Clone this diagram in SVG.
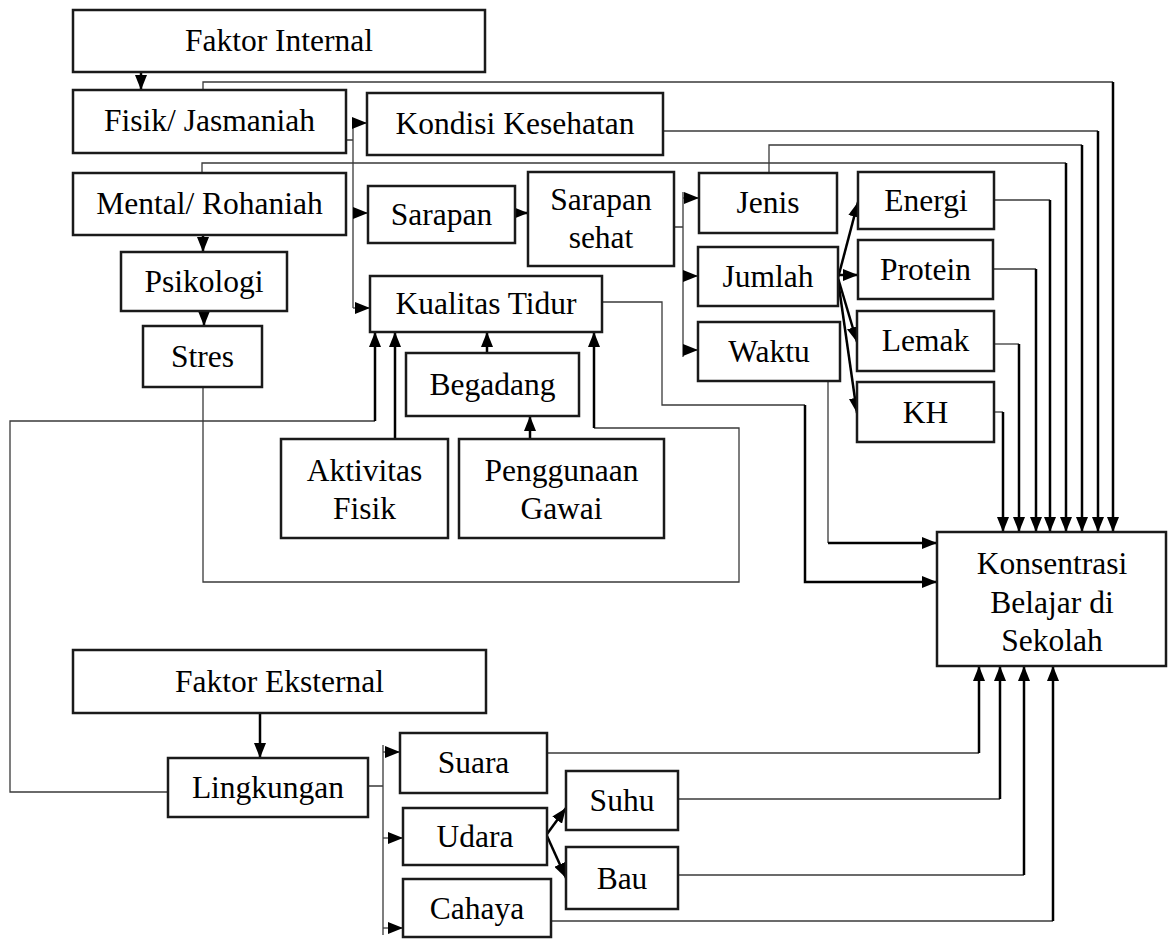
<svg xmlns="http://www.w3.org/2000/svg" width="1171" height="941" viewBox="0 0 1171 941">
<defs>
<style>
.box{fill:#fff;stroke:#1a1a1a;stroke-width:2.5}
.t{font-family:"Liberation Serif","Times New Roman",serif;font-size:31.5px;text-anchor:middle;fill:#000}
.thin{fill:none;stroke:#3a3a3a;stroke-width:1.3}
.thick{fill:none;stroke:#000;stroke-width:2.5}
.arr{marker-end:url(#ah)}
</style>
<marker id="ah" markerUnits="userSpaceOnUse" viewBox="0 0 15 12" markerWidth="15" markerHeight="12" refX="15" refY="6" orient="auto">
<path d="M0,0 L15,6 L0,12 z" fill="#000"/>
</marker>
</defs>
<rect width="1171" height="941" fill="#fff"/>

<g id="connectors">
<path class="thick arr" d="M141,72 V90"/>
<path class="thin" d="M203,90 V82 H1113"/>
<path class="thick arr" d="M1113,82 V532"/>
<path class="thin" d="M663,131 H1098"/>
<path class="thick arr" d="M1098,131 V532"/>
<path class="thin" d="M769,173 V145 H1082"/>
<path class="thick arr" d="M1082,145 V532"/>
<path class="thin" d="M202,173 V163 H1066"/>
<path class="thick arr" d="M1066,163 V532"/>
<path class="thin" d="M994,200 H1050"/>
<path class="thick arr" d="M1050,200 V532"/>
<path class="thin" d="M993,269 H1036"/>
<path class="thick arr" d="M1036,269 V532"/>
<path class="thin" d="M994,344 H1019"/>
<path class="thick arr" d="M1019,344 V532"/>
<path class="thin" d="M994,412 H1003"/>
<path class="thick arr" d="M1003,412 V532"/>
<path class="thin" d="M346,140 H353 M353,120 V308"/>
<path class="thin arr" d="M353,123 H367"/>
<path class="thin arr" d="M353,213 H368"/>
<path class="thin arr" d="M353,308 H370"/>
<path class="thick arr" d="M203,235 V252"/>
<path class="thick arr" d="M204,311 V326"/>
<path class="thick arr" d="M515,213 H528"/>
<path class="thin" d="M674,227 H683 M683,192 V357"/>
<path class="thin arr" d="M683,198 H699"/>
<path class="thin arr" d="M683,276 H698"/>
<path class="thin arr" d="M683,350 H698"/>
<path class="thick arr" d="M838,278 L858,202"/>
<path class="thick arr" d="M838,275 H858"/>
<path class="thick arr" d="M838,278 L857,342"/>
<path class="thick arr" d="M838,280 L857,413"/>
<path class="thin" d="M602,302 H662 V405 H805"/>
<path class="thick arr" d="M805,405 V582 H937"/>
<path class="thin" d="M828,381 V543"/>
<path class="thick arr" d="M828,543 H937"/>
<path class="thin" d="M203,387 V582 H739 V428 H594"/>
<path class="thick arr" d="M594,428 V332"/>
<path class="thin" d="M168,792 H10 V421 H375"/>
<path class="thick arr" d="M375,421 V332"/>
<path class="thick arr" d="M395,439 V332"/>
<path class="thick arr" d="M487,353 V332"/>
<path class="thick arr" d="M530,439 V416"/>
<path class="thick arr" d="M260,713 V758"/>
<path class="thin" d="M368,786 H383 M383,745 V935"/>
<path class="thin arr" d="M383,752 H400"/>
<path class="thin arr" d="M383,838 H403"/>
<path class="thin arr" d="M383,928 H403"/>
<path class="thick arr" d="M547,834 L566,808"/>
<path class="thick arr" d="M547,836 L566,878"/>
<path class="thin" d="M547,753 H979"/>
<path class="thick arr" d="M979,753 V666"/>
<path class="thin" d="M678,799 H1000"/>
<path class="thick arr" d="M1000,799 V666"/>
<path class="thin" d="M678,875 H1024"/>
<path class="thick arr" d="M1024,875 V666"/>
<path class="thin" d="M551,921 H1053"/>
<path class="thick arr" d="M1053,921 V666"/>
</g>

<g id="faktor-internal"><rect class="box" x="73" y="10" width="412" height="62"/><text class="t" x="279" y="51">Faktor Internal</text></g>
<g id="fisik"><rect class="box" x="73" y="90" width="273" height="63"/><text class="t" x="209.5" y="131">Fisik/ Jasmaniah</text></g>
<g id="kondisi"><rect class="box" x="367" y="93" width="296" height="62"/><text class="t" x="515" y="134">Kondisi Kesehatan</text></g>
<g id="mental"><rect class="box" x="73" y="173" width="273" height="62"/><text class="t" x="209.5" y="214">Mental/ Rohaniah</text></g>
<g id="psikologi"><rect class="box" x="121" y="252" width="166" height="59"/><text class="t" x="204" y="292">Psikologi</text></g>
<g id="stres"><rect class="box" x="143" y="326" width="119" height="61"/><text class="t" x="202.5" y="367">Stres</text></g>
<g id="sarapan"><rect class="box" x="368" y="186" width="147" height="57"/><text class="t" x="441.5" y="225">Sarapan</text></g>
<g id="sarapan-sehat"><rect class="box" x="528" y="172" width="146" height="94"/><text class="t" x="601" y="210">Sarapan</text><text class="t" x="601" y="248">sehat</text></g>
<g id="kualitas-tidur"><rect class="box" x="370" y="276" width="232" height="56"/><text class="t" x="486" y="314">Kualitas Tidur</text></g>
<g id="begadang"><rect class="box" x="406" y="353" width="173" height="63"/><text class="t" x="492.5" y="395">Begadang</text></g>
<g id="aktivitas-fisik"><rect class="box" x="281" y="439" width="167" height="99"/><text class="t" x="364.5" y="481">Aktivitas</text><text class="t" x="364.5" y="519">Fisik</text></g>
<g id="penggunaan-gawai"><rect class="box" x="459" y="439" width="205" height="99"/><text class="t" x="561.5" y="481">Penggunaan</text><text class="t" x="561.5" y="519">Gawai</text></g>
<g id="jenis"><rect class="box" x="699" y="173" width="138" height="60"/><text class="t" x="768" y="213">Jenis</text></g>
<g id="jumlah"><rect class="box" x="698" y="247" width="140" height="59"/><text class="t" x="768" y="287">Jumlah</text></g>
<g id="waktu"><rect class="box" x="698" y="322" width="142" height="59"/><text class="t" x="769" y="362">Waktu</text></g>
<g id="energi"><rect class="box" x="858" y="172" width="136" height="57"/><text class="t" x="926" y="211">Energi</text></g>
<g id="protein"><rect class="box" x="858" y="240" width="135" height="59"/><text class="t" x="925.5" y="280">Protein</text></g>
<g id="lemak"><rect class="box" x="857" y="311" width="137" height="60"/><text class="t" x="925.5" y="351">Lemak</text></g>
<g id="kh"><rect class="box" x="857" y="382" width="137" height="60"/><text class="t" x="925.5" y="423">KH</text></g>
<g id="konsentrasi"><rect class="box" x="937" y="532" width="229" height="134"/><text class="t" x="1052" y="574">Konsentrasi</text><text class="t" x="1052" y="613">Belajar di</text><text class="t" x="1052" y="651">Sekolah</text></g>
<g id="faktor-eksternal"><rect class="box" x="73" y="650" width="413" height="63"/><text class="t" x="279.5" y="692">Faktor Eksternal</text></g>
<g id="lingkungan"><rect class="box" x="168" y="758" width="200" height="59"/><text class="t" x="268" y="798">Lingkungan</text></g>
<g id="suara"><rect class="box" x="400" y="733" width="147" height="60"/><text class="t" x="473.5" y="773">Suara</text></g>
<g id="udara"><rect class="box" x="403" y="808" width="144" height="57"/><text class="t" x="475" y="847">Udara</text></g>
<g id="cahaya"><rect class="box" x="403" y="879" width="148" height="58"/><text class="t" x="477" y="919">Cahaya</text></g>
<g id="suhu"><rect class="box" x="566" y="771" width="112" height="59"/><text class="t" x="622" y="811">Suhu</text></g>
<g id="bau"><rect class="box" x="566" y="847" width="112" height="62"/><text class="t" x="622" y="889">Bau</text></g>
</svg>
